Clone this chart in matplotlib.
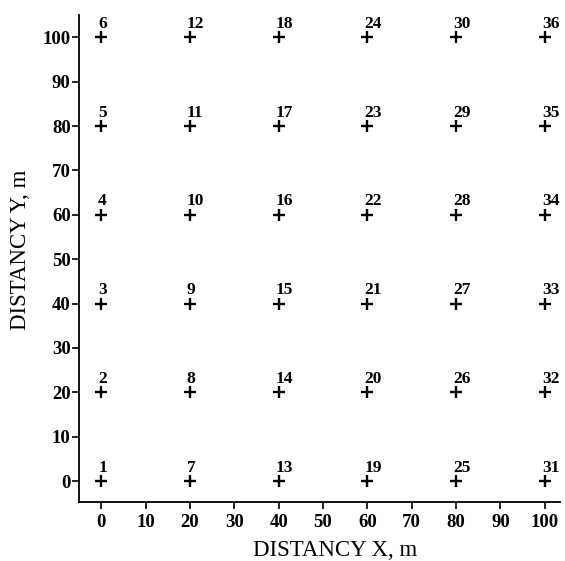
import matplotlib
matplotlib.use("Agg")
import matplotlib.pyplot as plt

plt.rcParams['font.family'] = ['Liberation Serif', 'DejaVu Serif']

x_vals = [0, 20, 40, 60, 80, 100]
y_vals = [0, 20, 40, 60, 80, 100]
xticks = [0, 10, 20, 30, 40, 50, 60, 70, 80, 90, 100]
yticks = [0, 10, 20, 30, 40, 50, 60, 70, 80, 90, 100]
xlabel = "DISTANCY X, m"
ylabel = "DISTANCY Y, m"

fig = plt.figure(figsize=(5.65, 5.61), dpi=100)
ax = fig.add_axes([0.1398, 0.1052, 0.8512, 0.8678])

n = 1
for xv in x_vals:
    for yv in y_vals:
        ax.plot(xv, yv, marker='+', color='black', markersize=9, markeredgewidth=1.7, linestyle='none')
        ax.annotate(str(n), (xv, yv), xytext=(-2.2, 4.0), textcoords='offset points',
                    ha='left', va='bottom', fontsize=12.5, fontweight='bold')
        n += 1

ax.set_xlim(-5, 103.4)
ax.set_ylim(-4.7, 105)
ax.set_xticks(xticks)
ax.set_yticks(yticks)
for lab in ax.get_xticklabels() + ax.get_yticklabels():
    lab.set_fontweight('bold')
    lab.set_fontsize(13.5)
ax.tick_params(direction='out', length=5, width=1.2)
ax.tick_params(axis='x', pad=4)
ax.tick_params(axis='y', pad=1)
ax.spines['top'].set_visible(False)
ax.spines['right'].set_visible(False)
ax.spines['left'].set_linewidth(1.3)
ax.spines['bottom'].set_linewidth(1.3)
ax.set_xlabel(xlabel, fontsize=16.5)
ax.set_ylabel(ylabel, fontsize=16.5)
ax.xaxis.set_label_coords(0.532, -0.078)
ax.yaxis.set_label_coords(-0.1, 0.517)

fig.savefig("out.png", dpi=100)
